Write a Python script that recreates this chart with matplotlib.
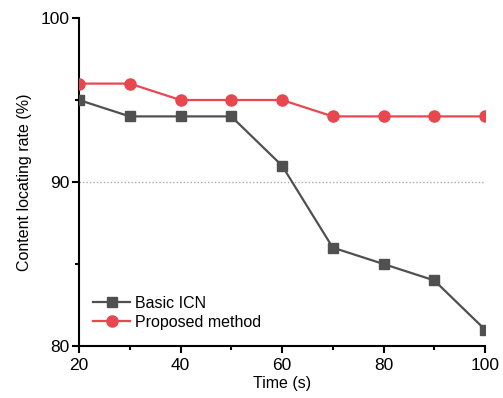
import matplotlib
matplotlib.use("Agg")
import matplotlib.pyplot as plt
from matplotlib.ticker import MultipleLocator

plt.rcParams['font.family'] = ['Liberation Sans', 'DejaVu Sans']

time_s = [20, 30, 40, 50, 60, 70, 80, 90, 100]
basic_icn = [95, 94, 94, 94, 91, 86, 85, 84, 81]
proposed = [96, 96, 95, 95, 95, 94, 94, 94, 94]

fig = plt.figure(figsize=(5.03, 3.98), dpi=100)
ax = fig.add_axes([79/503, 1 - 346/398, (485-79)/503, (346-18)/398])

ax.axhline(90, color='#aaaaaa', linestyle=(0, (1, 1.5)), linewidth=1, zorder=1)
ax.plot(time_s, basic_icn, color='#505050', marker='s', markersize=7, linewidth=1.6,
        label='Basic ICN', zorder=3)
ax.plot(time_s, proposed, color='#E8474F', marker='o', markersize=8, linewidth=1.6,
        label='Proposed method', zorder=3)

ax.set_xlim(20, 100)
ax.set_ylim(80, 100)
ax.xaxis.set_major_locator(MultipleLocator(20))
ax.xaxis.set_minor_locator(MultipleLocator(10))
ax.yaxis.set_major_locator(MultipleLocator(10))
ax.yaxis.set_minor_locator(MultipleLocator(5))
for s in ['top', 'right']:
    ax.spines[s].set_visible(False)
for s in ['left', 'bottom']:
    ax.spines[s].set_linewidth(1.5)
ax.tick_params(which='major', direction='out', length=5, width=1.5, labelsize=12.5)
ax.tick_params(axis='y', which='major', pad=2)
ax.tick_params(axis='x', which='major', pad=4)
ax.tick_params(which='minor', direction='out', length=3, width=1.5)

ax.set_xlabel('Time (s)', fontsize=11.5, labelpad=2)
ax.set_ylabel('Content locating rate (%)', fontsize=11.5, labelpad=6)

ax.legend(loc='lower left', bbox_to_anchor=(0.0, 0.005), frameon=False, fontsize=11.5,
          handlelength=2.3, handletextpad=0.3, borderaxespad=0.5, labelspacing=0.25)

fig.savefig('out.png', dpi=100)
